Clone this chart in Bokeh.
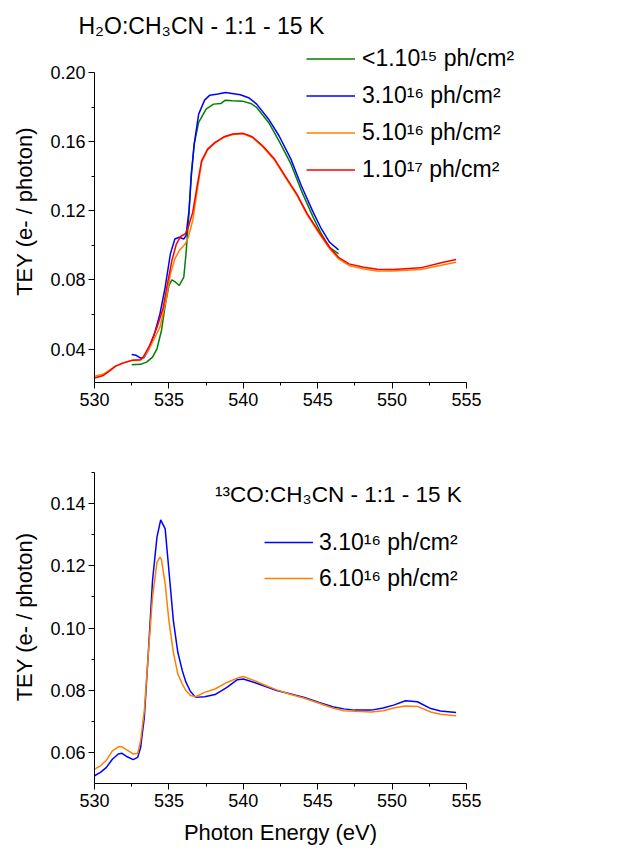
from bokeh.plotting import figure
from bokeh.models import Range1d, FixedTicker, PrintfTickFormatter, Legend, LegendItem, Label, Title
from bokeh.layouts import column
from bokeh.embed import file_html
from bokeh.resources import INLINE

FONT = "Liberation Sans"

# ---------------- Top panel: H2O:CH3CN ----------------
top_title = "H\u2082O:CH\u2083CN - 1:1 - 15 K"
top_labels = ["<1.10\u00b9\u2075 ph/cm\u00b2", "3.10\u00b9\u2076 ph/cm\u00b2",
              "5.10\u00b9\u2076 ph/cm\u00b2", "1.10\u00b9\u2077 ph/cm\u00b2"]
y_label = "TEY (e- / photon)"
x_label = "Photon Energy (eV)"

green_e = [532.5, 533.1, 533.5, 533.9, 534.2, 534.5, 534.75, 535.0, 535.2, 535.45, 535.7, 536.0,
           536.15, 536.35, 536.5, 536.7, 537.0, 537.5, 538.0, 538.5, 538.8, 539.25, 540.0, 540.5,
           540.9, 541.7, 542.4, 543.2, 543.9, 544.7, 545.25, 545.8, 546.4]
green_v = [0.0310, 0.0312, 0.0325, 0.0354, 0.0402, 0.0508, 0.0652, 0.0768, 0.0800, 0.0787, 0.0768,
           0.0816, 0.0951, 0.1182, 0.1413, 0.1586, 0.1711, 0.1788, 0.1817, 0.1821, 0.1840, 0.1836,
           0.1833, 0.1821, 0.1798, 0.1711, 0.1605, 0.1471, 0.1317, 0.1162, 0.1066, 0.0989, 0.0951]

blue_e = [532.5, 532.8, 533.1, 533.3, 533.6, 534.0, 534.4, 534.75, 535.1, 535.4, 535.7, 536.0,
          536.15, 536.35, 536.5, 536.7, 537.0, 537.4, 537.75, 538.3, 538.8, 539.25, 539.8, 540.4,
          540.9, 541.7, 542.4, 543.2, 543.9, 544.7, 545.25, 545.8, 546.4]
blue_v = [0.0369, 0.0364, 0.0348, 0.0348, 0.0392, 0.0479, 0.0604, 0.0758, 0.0951, 0.1037, 0.1047,
          0.1037, 0.1057, 0.1201, 0.1394, 0.1586, 0.1759, 0.1840, 0.1869, 0.1875, 0.1884, 0.1879,
          0.1871, 0.1852, 0.1817, 0.1730, 0.1634, 0.1499, 0.1345, 0.1191, 0.1095, 0.1018, 0.0974]

orange_e = [530.0, 530.6, 531.0, 531.4, 531.9, 532.5, 533.1, 533.3, 533.7, 534.4, 534.8, 535.1,
            535.4, 535.7, 536.1, 536.3, 536.6, 536.9, 537.2, 537.6, 538.1, 538.7, 539.3, 540.0,
            540.6, 541.3, 542.1, 542.8, 543.6, 544.3, 545.1, 545.8, 546.4, 547.1, 548.1, 549.0,
            550.1, 551.9, 553.3, 554.3]
orange_v = [0.0243, 0.0256, 0.0278, 0.0302, 0.0320, 0.0334, 0.0337, 0.0352, 0.0405, 0.0527, 0.0681,
            0.0835, 0.0922, 0.0970, 0.1008, 0.1047, 0.1143, 0.1317, 0.1480, 0.1552, 0.1592, 0.1625,
            0.1641, 0.1645, 0.1624, 0.1571, 0.1493, 0.1396, 0.1290, 0.1175, 0.1068, 0.0980, 0.0922,
            0.0884, 0.0864, 0.0852, 0.0852, 0.0860, 0.0885, 0.0903]

red_e = [530.0, 530.6, 531.0, 531.4, 531.9, 532.5, 533.1, 533.3, 533.7, 534.2, 534.6, 534.9,
         535.2, 535.5, 535.8, 536.1, 536.3, 536.6, 536.9, 537.2, 537.6, 538.1, 538.7, 539.3,
         540.0, 540.6, 541.3, 542.1, 542.8, 543.6, 544.3, 545.1, 545.8, 546.4, 547.1, 548.1,
         549.0, 550.1, 551.9, 553.3, 554.3]
red_v = [0.0233, 0.0248, 0.0273, 0.0300, 0.0319, 0.0335, 0.0338, 0.0358, 0.0421, 0.0527, 0.0633,
         0.0777, 0.0912, 0.1008, 0.1053, 0.1066, 0.1105, 0.1191, 0.1345, 0.1490, 0.1557, 0.1596,
         0.1628, 0.1644, 0.1648, 0.1628, 0.1576, 0.1499, 0.1403, 0.1297, 0.1182, 0.1076, 0.0989,
         0.0931, 0.0893, 0.0874, 0.0862, 0.0861, 0.0870, 0.0899, 0.0918]

# ---------------- Bottom panel: 13CO:CH3CN ----------------
bot_title = "\u00b9\u00b3CO:CH\u2083CN - 1:1 - 15 K"
bot_labels = ["3.10\u00b9\u2076 ph/cm\u00b2", "6.10\u00b9\u2076 ph/cm\u00b2"]

co_blue_e = [530.0, 530.4, 530.8, 531.2, 531.6, 531.85, 532.2, 532.6, 532.9, 533.1, 533.35, 533.6,
             533.9, 534.2, 534.45, 534.75, 535.0, 535.3, 535.6, 535.9, 536.15, 536.45, 536.8, 537.4,
             538.1, 538.9, 539.6, 540.0, 540.75, 541.5, 542.25, 543.2, 544.1, 545.1, 546.0, 546.75,
             547.5, 548.6, 549.4, 550.1, 550.9, 551.7, 552.6, 553.25, 554.3]
co_blue_v = [0.0525, 0.0536, 0.0552, 0.0578, 0.0595, 0.0597, 0.0586, 0.0577, 0.0584, 0.0616, 0.0713,
             0.0906, 0.1153, 0.1293, 0.1348, 0.1319, 0.1185, 0.1024, 0.0922, 0.0863, 0.0825, 0.0796,
             0.0777, 0.0779, 0.0786, 0.0809, 0.0834, 0.0836, 0.0825, 0.0812, 0.0799, 0.0788, 0.0777,
             0.0761, 0.0747, 0.0740, 0.0736, 0.0736, 0.0743, 0.0752, 0.0766, 0.0763, 0.0741, 0.0733,
             0.0728]

co_orange_e = [530.0, 530.4, 530.8, 531.2, 531.6, 531.85, 532.2, 532.6, 532.9, 533.1, 533.35, 533.6,
               533.9, 534.2, 534.4, 534.5, 534.75, 535.0, 535.3, 535.6, 535.9, 536.15, 536.45, 536.8,
               537.4, 538.1, 538.9, 539.6, 540.0, 540.75, 541.5, 542.25, 543.2, 544.1, 545.1, 546.0,
               546.75, 547.5, 548.6, 549.4, 550.1, 550.9, 551.7, 552.6, 553.25, 554.3]
co_orange_v = [0.0546, 0.0557, 0.0575, 0.0605, 0.0618, 0.0618, 0.0607, 0.0595, 0.0597, 0.0638, 0.0735,
               0.0906, 0.1099, 0.1212, 0.1228, 0.1220, 0.1142, 0.1024, 0.0922, 0.0852, 0.0820, 0.0799,
               0.0783, 0.0779, 0.0793, 0.0804, 0.0825, 0.0839, 0.0844, 0.0831, 0.0815, 0.0801, 0.0786,
               0.0774, 0.0758, 0.0743, 0.0734, 0.0732, 0.0730, 0.0734, 0.0743, 0.0749, 0.0748, 0.0730,
               0.0723, 0.0718]

x_ticks = [530, 535, 540, 545, 550, 555]
x_minor = [532.5, 537.5, 542.5, 547.5, 552.5]
top_y_ticks = [0.04, 0.08, 0.12, 0.16, 0.20]
top_y_minor = [0.06, 0.10, 0.14, 0.18]
bot_y_ticks = [0.06, 0.08, 0.10, 0.12, 0.14]
bot_y_minor = [0.07, 0.09, 0.11, 0.13, 0.15]

GREEN, BLUE, ORANGE, RED = "#008000", "#0000FF", "#FF8000", "#FF0000"

X0, X1 = 530, 555
PX_PER_EV = 14.88


def style(p, yt, ym, ybounds):
    p.xaxis.ticker = FixedTicker(ticks=x_ticks, minor_ticks=x_minor)
    p.yaxis.ticker = FixedTicker(ticks=yt, minor_ticks=ym)
    p.yaxis.formatter = PrintfTickFormatter(format="%.2f")
    p.xaxis.bounds = (X0, X1)
    p.yaxis.bounds = ybounds
    for ax in (p.xaxis[0], p.yaxis[0]):
        ax.major_tick_in = 0
        ax.major_tick_out = 6
        ax.minor_tick_in = 0
        ax.minor_tick_out = 3
        ax.axis_line_color = "black"
        ax.major_tick_line_color = "black"
        ax.minor_tick_line_color = "black"
        ax.major_label_text_font = FONT
        ax.major_label_text_font_size = "18px"
        ax.major_label_text_color = "black"
        ax.axis_label_text_font = FONT
        ax.axis_label_text_font_size = "22px"
        ax.axis_label_text_font_style = "normal"
        ax.axis_label_text_color = "black"
    p.yaxis.axis_label = y_label
    p.yaxis.axis_label_standoff = 10
    p.yaxis.major_label_standoff = 3
    p.xaxis.major_label_standoff = 4
    p.xgrid.visible = False
    p.ygrid.visible = False
    p.outline_line_color = None


def make_legend(items, location, standoff, row_h):
    return Legend(items=items, location=location, glyph_width=49, glyph_height=row_h,
                  label_height=row_h, label_standoff=standoff, spacing=0, padding=0, margin=0,
                  label_text_font=FONT, label_text_font_size="23px", label_text_color="black",
                  border_line_color=None, background_fill_alpha=0)


# ----- top figure: frame extended right/up so the legend is not clipped -----
TOP_FRAME_W = 531
p1 = figure(output_backend="svg", toolbar_location=None, min_border_left=94, min_border_right=0,
            frame_width=TOP_FRAME_W, frame_height=342,
            x_range=Range1d(X0, X0 + TOP_FRAME_W / PX_PER_EV), y_range=Range1d(0.0207, 0.2185),
            min_border_top=40, min_border_bottom=46)
style(p1, top_y_ticks, top_y_minor, (0.0207, 0.20))
p1.title = Title(text=top_title, text_font=FONT, text_font_size="23px", text_font_style="normal",
                 align="left", offset=-16, standoff=3, text_color="black")

r_g = p1.line(green_e, green_v, line_color=GREEN, line_width=1.5)
r_b = p1.line(blue_e, blue_v, line_color=BLUE, line_width=1.5)
r_o = p1.line(orange_e, orange_v, line_color=ORANGE, line_width=1.5)
r_r = p1.line(red_e, red_v, line_color=RED, line_width=1.5)

leg1 = make_legend([LegendItem(label=top_labels[0], renderers=[r_g]),
                    LegendItem(label=top_labels[1], renderers=[r_b]),
                    LegendItem(label=top_labels[2], renderers=[r_o]),
                    LegendItem(label=top_labels[3], renderers=[r_r])],
                   (212, 194), 7, 37)
p1.add_layout(leg1, "center")

# ----- bottom figure (frame a little taller than the axis, as in the original layer) -----
p2 = figure(output_backend="svg", toolbar_location=None, min_border_left=94, min_border_right=159,
            frame_width=372, frame_height=333,
            x_range=Range1d(X0, X1), y_range=Range1d(0.05, 0.1571),
            min_border_top=22, min_border_bottom=65)
style(p2, bot_y_ticks, bot_y_minor, (0.05, 0.15))
p2.xaxis.axis_label = x_label
p2.xaxis.axis_label_standoff = 10

b_b = p2.line(co_blue_e, co_blue_v, line_color=BLUE, line_width=1.5)
b_o = p2.line(co_orange_e, co_orange_v, line_color=ORANGE, line_width=1.5)

leg2 = make_legend([LegendItem(label=bot_labels[0], renderers=[b_b]),
                    LegendItem(label=bot_labels[1], renderers=[b_o])],
                   (170, 187), 6, 36)
p2.add_layout(leg2, "center")
p2.add_layout(Label(x=538.1, y=0.1431, text=bot_title, text_font=FONT,
                    text_font_size="22.5px", text_baseline="alphabetic", text_color="black"))

layout = column(p1, p2, spacing=0)
open("out.html", "w").write(file_html(layout, INLINE))
